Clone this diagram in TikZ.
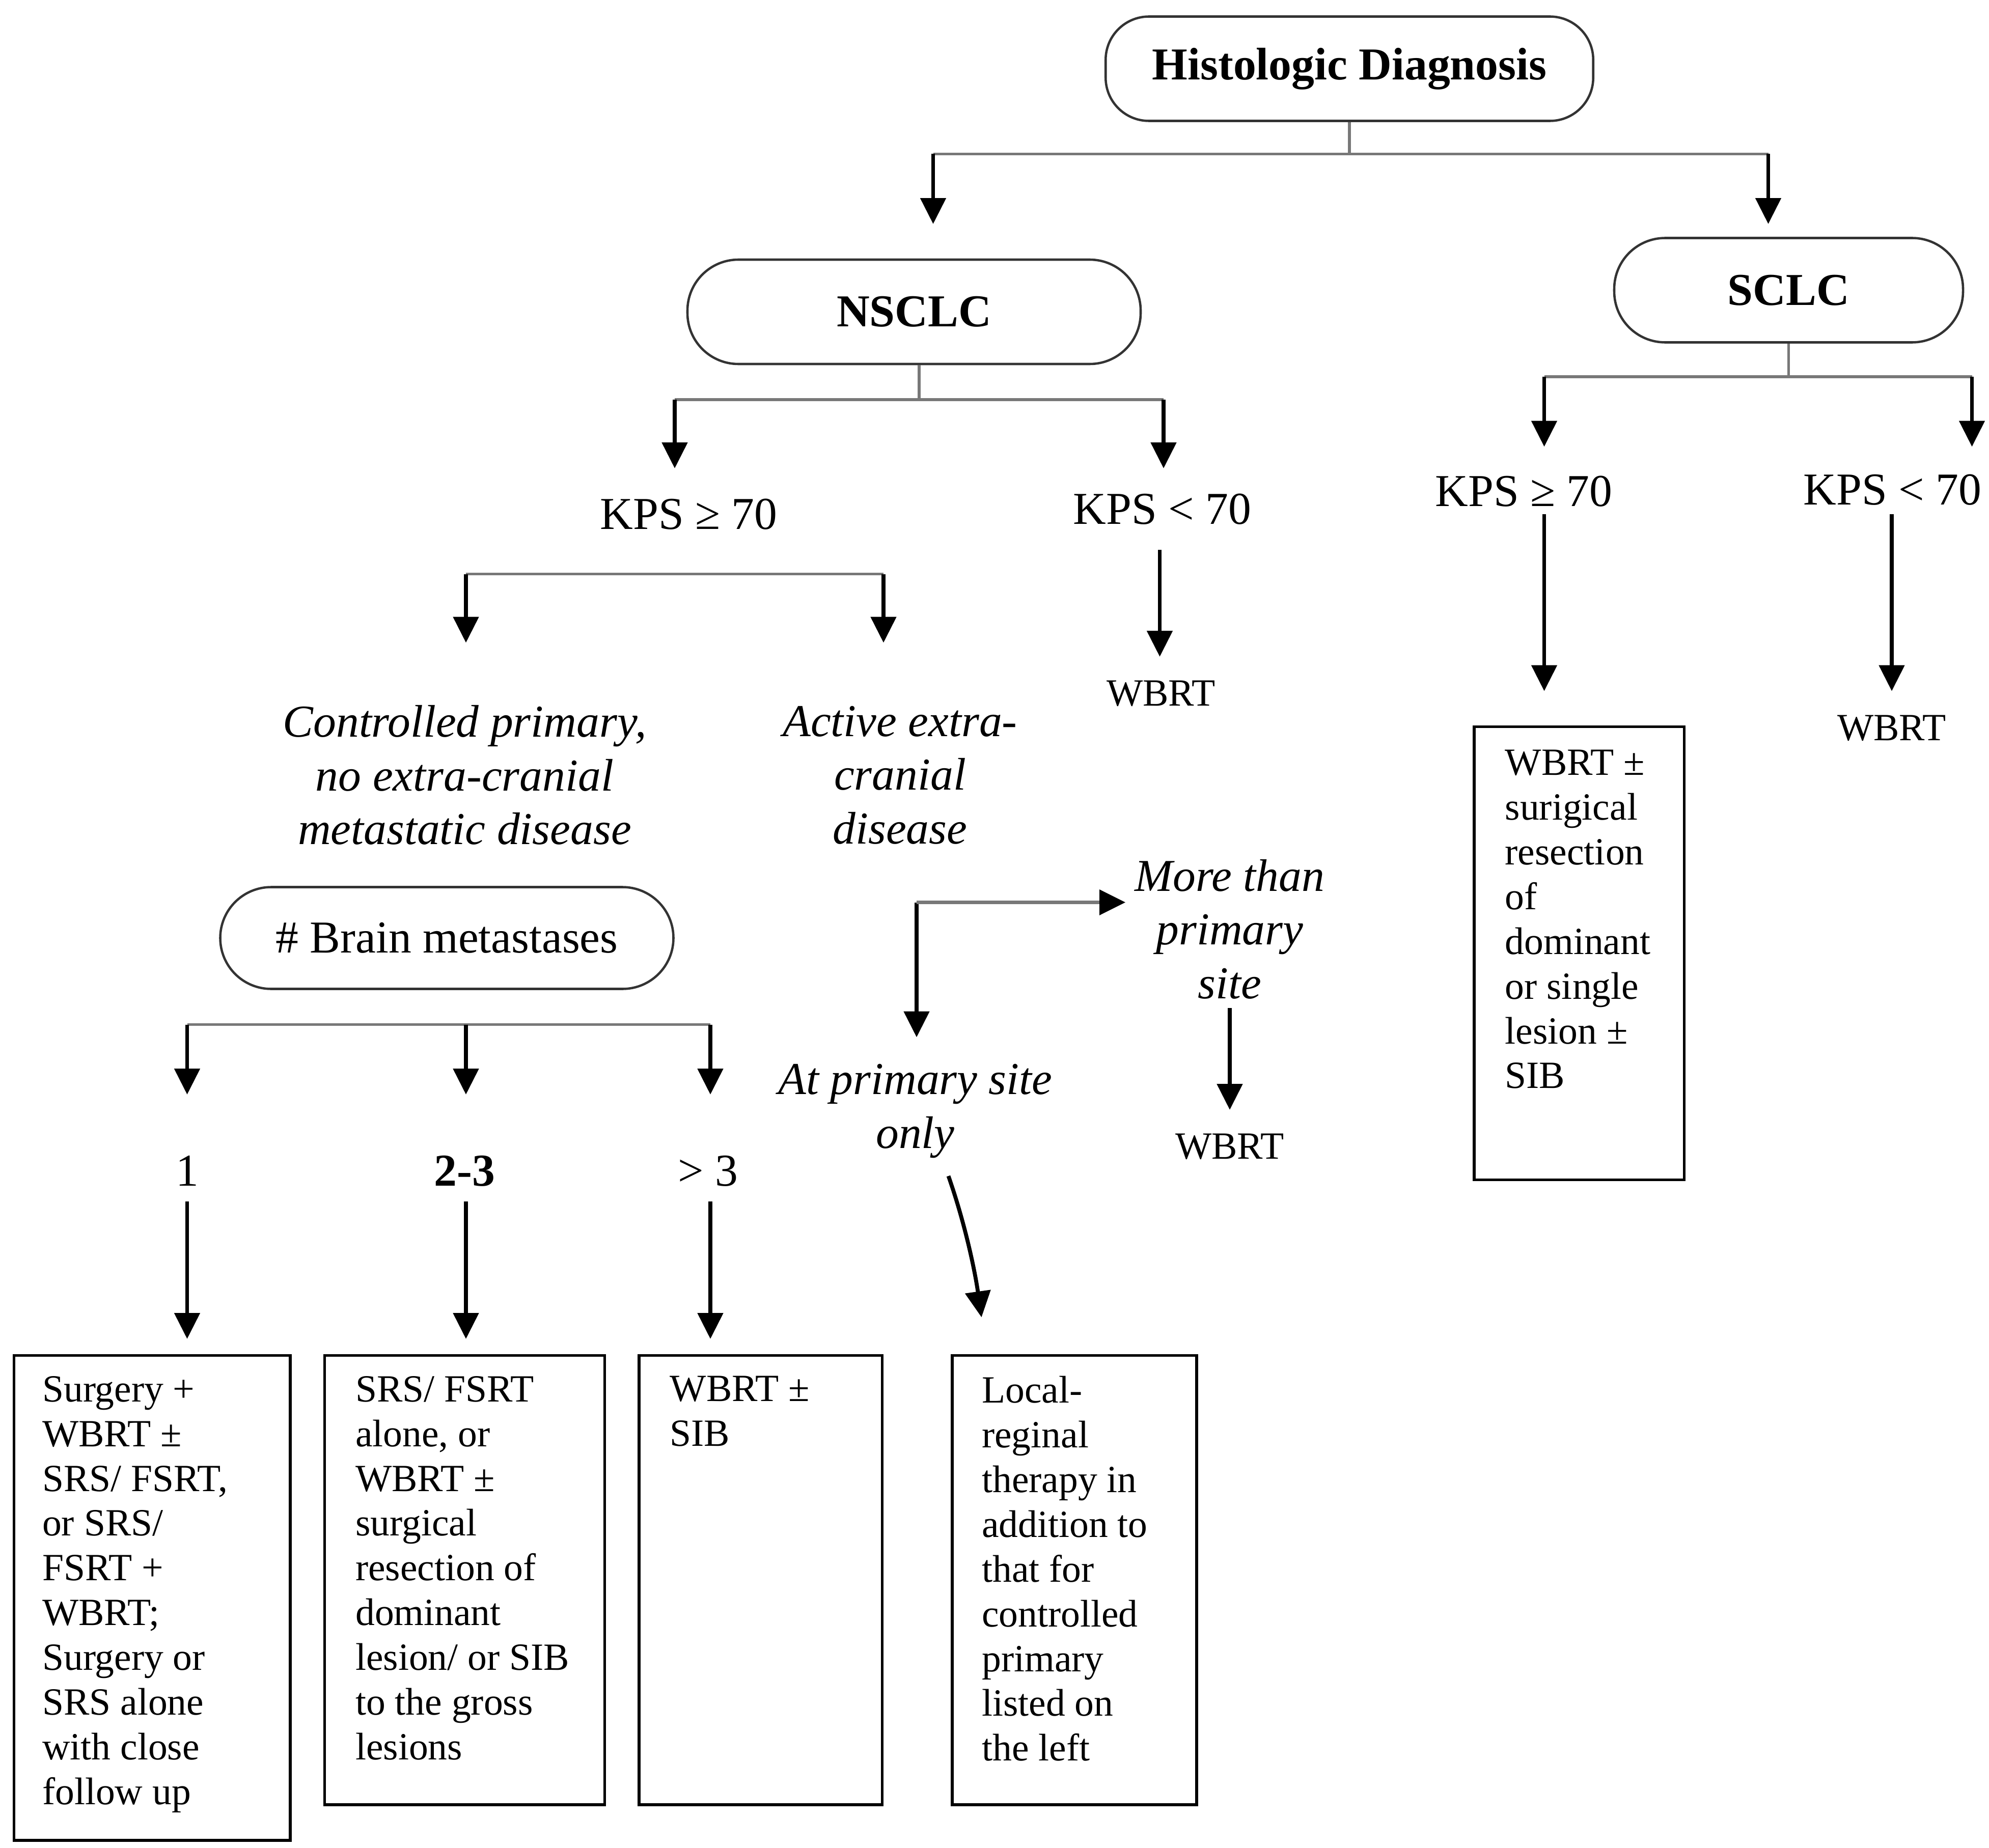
\documentclass[tikz,border=0pt]{standalone}
\usepackage{fontspec}
\setmainfont{Liberation Serif}
\usetikzlibrary{arrows.meta}
\def\pxu{0.025cm}
\newcommand\fbig{\fontsize{25.5pt}{30pt}\selectfont}
\newcommand\fsmall{\fontsize{21.5pt}{25pt}\selectfont}
\begin{document}
\begin{tikzpicture}[x=0.025cm, y=-0.025cm,
  pill/.style={draw=black!80, line width=1.3pt, rounded corners=#1, inner sep=0pt},
  rbox/.style={draw=black, line width=1.5pt, inner sep=0pt},
  big/.style={font=\fbig, inner sep=0pt},
  bigit/.style={font=\fbig\itshape, align=center, inner sep=0pt},
  small/.style={font=\fsmall, inner sep=0pt},
  btext/.style={font=\fsmall, align=left, anchor=north west, inner sep=0pt},
  gl/.style={draw={rgb,255:red,120;green,120;blue,120}, line width=1.6pt},
  arr/.style={draw=black, line width=2.2pt, -{Triangle[length=14.5pt,width=14pt]}},
  garr/.style={draw={rgb,255:red,120;green,120;blue,120}, line width=1.8pt, -{Triangle[length=14.5pt,width=14pt,color=black]}}
]
\useasboundingbox (0,0) rectangle (1562.4,1452);

% ---- rounded boxes
\node[pill=0.85cm, minimum width=383*\pxu, minimum height=82*\pxu, font=\fbig\bfseries] (hd) at (1060,54) {Histologic Diagnosis};
\node[pill=1cm, minimum width=356*\pxu, minimum height=82*\pxu, font=\fbig\bfseries] (nsclc) at (718,245) {NSCLC};
\node[pill=1cm, minimum width=274*\pxu, minimum height=82*\pxu, font=\fbig\bfseries] (sclc) at (1405,228) {SCLC};
\node[pill=1cm, minimum width=356*\pxu, minimum height=80*\pxu, font=\fbig] (brain) at (351,737) {\# Brain metastases};

% ---- labels
\node[big] (kpsA) at (541,404) {KPS ≥ 70};
\node[big] (kpsB) at (913,400) {KPS < 70};
\node[big] (kpsC) at (1197,386) {KPS ≥ 70};
\node[big] (kpsD) at (1486.5,385) {KPS < 70};
\node[small] (wbrtA) at (912,545) {WBRT};
\node[small] (wbrtD) at (1486,572) {WBRT};
\node[small] (wbrtM) at (966,901) {WBRT};
\node[bigit] (ctrl) at (365,609) {Controlled primary,\\no extra-cranial\\metastatic disease};
\node[bigit] (active) at (707,609) {Active extra-\\cranial\\disease};
\node[bigit] (more) at (966,730) {More than\\primary\\site};
\node[bigit] (atp) at (719,873) {At primary site\\only};
\node[big] (n1) at (147,920) {1};
\node[big, font=\fbig\bfseries] (n23) at (365,920) {2-3};
\node[big] (n3) at (556,920) {> 3};

% ---- rectangular boxes
\node[rbox, minimum width=217*\pxu, minimum height=381*\pxu] (b1) at (119.5,1255.5) {};
\node[rbox, minimum width=220*\pxu, minimum height=353*\pxu] (b2) at (365,1241.5) {};
\node[rbox, minimum width=191*\pxu, minimum height=353*\pxu] (b3) at (597.5,1241.5) {};
\node[rbox, minimum width=192*\pxu, minimum height=353*\pxu] (b4) at (844,1241.5) {};
\node[rbox, minimum width=165*\pxu, minimum height=356*\pxu] (b5) at (1240.5,749) {};

\node[btext] (t1) at (33,1081) {Surgery +\\WBRT ±\\SRS/ FSRT,\\or SRS/\\FSRT +\\WBRT;\\Surgery or\\SRS alone\\with close\\follow up};
\node[btext] (t2) at (279,1081) {SRS/ FSRT\\alone, or\\WBRT ±\\surgical\\resection of\\dominant\\lesion/ or SIB\\to the gross\\lesions};
\node[btext] (t3) at (526,1081) {WBRT ±\\SIB};
\node[btext] (t4) at (771,1081) {Local-\\reginal\\therapy in\\addition to\\that for\\controlled\\primary\\listed on\\the left};
\node[btext] (t5) at (1182,589) {WBRT ±\\surigical\\resection\\of\\dominant\\or single\\lesion ±\\SIB};

% ---- connector coordinates
\coordinate (j0) at (1060,121);
\coordinate (j0L) at (733,121);  \coordinate (j0R) at (1389,121);
\coordinate (t0L) at (733,176);  \coordinate (t0R) at (1389,176);
\coordinate (j1) at (722,314);
\coordinate (j1L) at (530,314);  \coordinate (j1R) at (914,314);
\coordinate (t1L) at (530,368);  \coordinate (t1R) at (914,368);
\coordinate (j2) at (1405,296);
\coordinate (j2L) at (1213,296); \coordinate (j2R) at (1549,296);
\coordinate (t2L) at (1213,351); \coordinate (t2R) at (1549,351);
\coordinate (j3L) at (366,451);  \coordinate (j3R) at (694,451);
\coordinate (t3L) at (366,505);  \coordinate (t3R) at (694,505);
\coordinate (s4) at (911,432);   \coordinate (e4) at (911,516);
\coordinate (s5) at (1213,404);  \coordinate (e5) at (1213,543);
\coordinate (s6) at (1486,404);  \coordinate (e6) at (1486,543);
\coordinate (j7L) at (147,805);  \coordinate (j7M) at (366,805); \coordinate (j7R) at (558,805);
\coordinate (t7L) at (147,860);  \coordinate (t7M) at (366,860); \coordinate (t7R) at (558,860);
\coordinate (s8L) at (147,944);  \coordinate (s8M) at (366,944); \coordinate (s8R) at (558,944);
\coordinate (e8L) at (147,1052); \coordinate (e8M) at (366,1052); \coordinate (e8R) at (558,1052);
\coordinate (el) at (720,709);   \coordinate (elD) at (720,815); \coordinate (elR) at (884,709);
\coordinate (s9) at (966,792);   \coordinate (e9) at (966,872);
\coordinate (c0) at (745,924);   \coordinate (c1) at (771,1035);

% ---- connectors
\draw[gl] (hd.south) -- (j0);
\draw[gl] (j0L) -- (j0R);
\draw[arr] (j0L) -- (t0L);
\draw[arr] (j0R) -- (t0R);

\draw[gl] (j1 |- nsclc.south) -- (j1);
\draw[gl] (j1L) -- (j1R);
\draw[arr] (j1L) -- (t1L);
\draw[arr] (j1R) -- (t1R);

\draw[gl] (sclc.south) -- (j2);
\draw[gl] (j2L) -- (j2R);
\draw[arr] (j2L) -- (t2L);
\draw[arr] (j2R) -- (t2R);

\draw[gl] (j3L) -- (j3R);
\draw[arr] (j3L) -- (t3L);
\draw[arr] (j3R) -- (t3R);

\draw[arr] (s4) -- (e4);
\draw[arr] (s5) -- (e5);
\draw[arr] (s6) -- (e6);

\draw[gl] (j7L) -- (j7R);
\draw[arr] (j7L) -- (t7L);
\draw[arr] (j7M) -- (t7M);
\draw[arr] (j7R) -- (t7R);

\draw[arr] (s8L) -- (e8L);
\draw[arr] (s8M) -- (e8M);
\draw[arr] (s8R) -- (e8R);

\draw[arr] (el) -- (elD);
\draw[garr] (el) -- (elR);
\draw[arr] (s9) -- (e9);
\draw[arr] (c0) .. controls (757.6,960) and (765.6,997) .. (c1);
\end{tikzpicture}
\end{document}
